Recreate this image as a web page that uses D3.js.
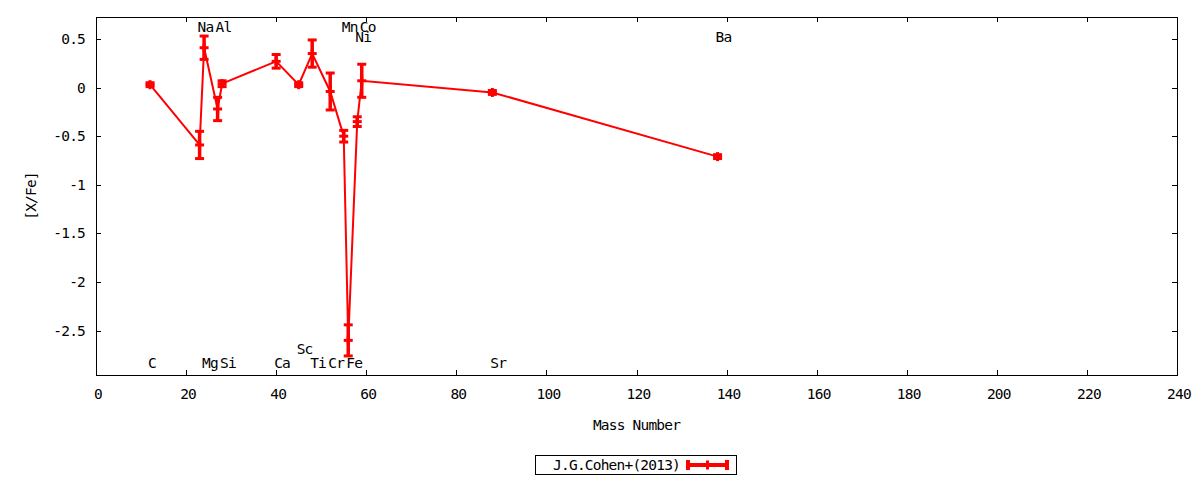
<!DOCTYPE html>
<html>
<head>
<meta charset="utf-8">
<script src="https://cdn.jsdelivr.net/npm/d3@7"></script>
<style>
    body { margin: 0; background: #fff; }
    #chart { width: 1200px; height: 480px; }
    text { font-family: "DejaVu Sans Mono", monospace; font-size: 14.5px; letter-spacing: -0.8px; fill: #000; }
</style>
</head>
<body>
<div id="chart"></div>
<script>

// abundances: element, mass number, [X/Fe], error
var elements = ["C", "Na", "Mg", "Al", "Si", "Ca", "Sc", "Ti", "Cr", "Mn", "Fe", "Ni", "Co", "Sr", "Ba"];
var masses   = [12, 23, 24, 27, 28, 40, 45, 48, 52, 55, 56, 58, 59, 88, 138];
var values   = [0.03, -0.59, 0.41, -0.22, 0.04, 0.27, 0.03, 0.35, -0.04, -0.50, -2.60, -0.35, 0.07, -0.05, -0.71];
var errors   = [0.02, 0.14, 0.12, 0.12, 0.03, 0.07, 0.02, 0.14, 0.19, 0.06, 0.16, 0.05, 0.17, 0.02, 0.02];

// element name labels (mass position, y value)
var labelNames  = ["Na", "Al", "Mn", "Co", "Ni", "Ba", "Sc", "C", "Mg", "Si", "Ca", "Ti", "Cr", "Fe", "Sr"];
var labelMasses = [23, 27, 55, 59, 58, 138, 45, 12, 24, 28, 40, 48, 52, 56, 88];
var labelYs     = [0.62, 0.62, 0.62, 0.62, 0.52, 0.52, -2.69, -2.83, -2.83, -2.83, -2.83, -2.83, -2.83, -2.83, -2.83];

var xTicks = d3.range(0, 241, 20);
var yTicks = [0.5, 0, -0.5, -1, -1.5, -2, -2.5];

var seriesName = "J.G.Cohen+(2013)";

var data = elements.map(function(e, i) {
    return { el: e, mass: masses[i], val: values[i], err: errors[i] };
});

var width = 1200;
var height = 480;
var margin = { left: 96, right: 23, top: 17, bottom: 105 };

var svg = d3.select("#chart")
    .append("svg")
    .attr("width", width)
    .attr("height", height);

var xScale = d3.scaleLinear()
    .domain([0, 240])
    .range([margin.left, width - margin.right]);

var yScale = d3.scaleLinear()
    .domain([-2.956, 0.726])
    .range([height - margin.bottom, margin.top]);

var x0 = xScale.range()[0], x1 = xScale.range()[1];
var y0 = yScale.range()[0], y1 = yScale.range()[1];

// ticks on all four sides, pointing inward
var tickLen = 5;
var ticks = svg.append("g").attr("stroke", "#000").attr("stroke-width", 1).attr("shape-rendering", "crispEdges");

xTicks.forEach(function(t) {
    var x = Math.round(xScale(t)) + 0.5;
    ticks.append("line").attr("x1", x).attr("x2", x).attr("y1", y0).attr("y2", y0 - tickLen);
    ticks.append("line").attr("x1", x).attr("x2", x).attr("y1", y1).attr("y2", y1 + tickLen);
    svg.append("text")
        .attr("x", xScale(t) + 2)
        .attr("y", y0 + 19)
        .attr("text-anchor", "middle")
        .attr("dominant-baseline", "central")
        .text(t);
});

yTicks.forEach(function(t) {
    var y = Math.round(yScale(t)) + 0.5;
    ticks.append("line").attr("x1", x0).attr("x2", x0 + tickLen).attr("y1", y).attr("y2", y);
    ticks.append("line").attr("x1", x1).attr("x2", x1 - tickLen).attr("y1", y).attr("y2", y);
    svg.append("text")
        .attr("x", x0 - 11)
        .attr("y", yScale(t))
        .attr("text-anchor", "end")
        .attr("dominant-baseline", "central")
        .text(t);
});

svg.append("rect")
    .attr("x", x0 + 0.5)
    .attr("y", y1 + 0.5)
    .attr("width", x1 - x0)
    .attr("height", y0 - y1)
    .attr("fill", "none")
    .attr("stroke", "#000")
    .attr("stroke-width", 1)
    .attr("shape-rendering", "crispEdges");

// axis titles
svg.append("text")
    .attr("x", (x0 + x1) / 2)
    .attr("y", 425)
    .attr("text-anchor", "middle")
    .attr("dominant-baseline", "central")
    .text("Mass Number");

svg.append("text")
    .attr("transform", "translate(31," + ((y0 + y1) / 2) + ") rotate(-90)")
    .attr("text-anchor", "middle")
    .attr("dominant-baseline", "central")
    .text("[X/Fe]");

// element labels
labelNames.forEach(function(n, i) {
    svg.append("text")
        .attr("x", xScale(labelMasses[i]) - 2)
        .attr("y", yScale(labelYs[i]))
        .attr("text-anchor", "start")
        .attr("dominant-baseline", "central")
        .text(n);
});

var red = "#ff0000";

var line = d3.line()
    .x(function(d) { return xScale(d.mass); })
    .y(function(d) { return yScale(d.val); });

svg.append("path")
    .datum(data)
    .attr("d", line)
    .attr("fill", "none")
    .attr("stroke", red)
    .attr("stroke-width", 2);

var marks = svg.append("g").attr("stroke", red).attr("stroke-width", 3);

data.forEach(function(d) {
    var x = xScale(d.mass);
    var yHi = yScale(d.val + d.err);
    var yLo = yScale(d.val - d.err);
    var y = yScale(d.val);
    marks.append("line").attr("x1", x).attr("x2", x).attr("y1", yHi).attr("y2", yLo).attr("stroke-width", 3.5);
    marks.append("line").attr("x1", x - 4.5).attr("x2", x + 4.5).attr("y1", yHi).attr("y2", yHi);
    marks.append("line").attr("x1", x - 4.5).attr("x2", x + 4.5).attr("y1", yLo).attr("y2", yLo);
    marks.append("line").attr("x1", x - 4.5).attr("x2", x + 4.5).attr("y1", y).attr("y2", y);
    marks.append("line").attr("x1", x).attr("x2", x).attr("y1", y - 4.5).attr("y2", y + 4.5);
});

// legend
var legend = svg.append("g");

legend.append("rect")
    .attr("x", 535.5)
    .attr("y", 455.5)
    .attr("width", 201)
    .attr("height", 19)
    .attr("fill", "none")
    .attr("stroke", "#000")
    .attr("stroke-width", 1)
    .attr("shape-rendering", "crispEdges");

legend.append("text")
    .attr("x", 680)
    .attr("y", 465)
    .attr("text-anchor", "end")
    .attr("dominant-baseline", "central")
    .text(seriesName);

var lg = legend.append("g").attr("stroke", red).attr("stroke-width", 4);
lg.append("line").attr("x1", 686).attr("x2", 729).attr("y1", 465).attr("y2", 465);
lg.append("line").attr("x1", 688).attr("x2", 688).attr("y1", 460).attr("y2", 470);
lg.append("line").attr("x1", 727).attr("x2", 727).attr("y1", 460).attr("y2", 470);
lg.append("line").attr("x1", 707.5).attr("x2", 707.5).attr("y1", 460.5).attr("y2", 469.5).attr("stroke-width", 3);

</script>
</body>
</html>
